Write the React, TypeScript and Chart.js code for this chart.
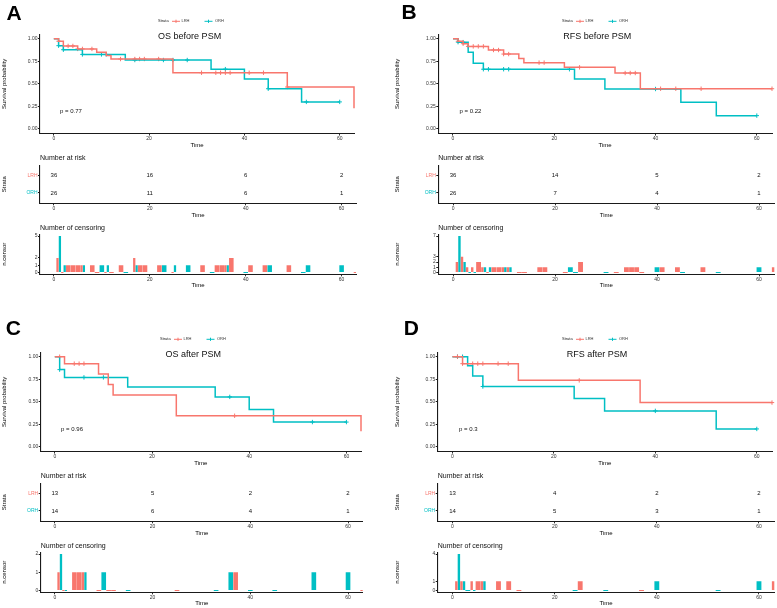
import React, { useEffect, useRef } from "react";
import { Chart, registerables } from "chart.js";

Chart.register(...registerables);

const RED = "#F8766D";
const CYAN = "#00BFC4";
const AXIS = "#1a1a1a";
const TICK = "#333333";
const FONT = "'Liberation Sans', Arial, Helvetica, sans-serif";

const STRATA = ["LRH", "ORH"];
const TIME_TICKS = [0, 20, 40, 60];
const SURV_TICKS = [0, 0.25, 0.5, 0.75, 1];
const RISK_TIMES = [0, 20, 40, 60];
const X_MIN = -2.9;
const X_MAX = 63;
const TITLE_T = 28.5;
const PVAL_T = 1.3;
const PVAL_S = 0.2;

// ---------- A: OS before PSM ----------
const A_TITLE = "OS before PSM";
const A_PVAL = "p = 0.77";
const A_LRH_T = [0, 1, 2, 5, 9, 11, 12, 25, 49, 63];
const A_LRH_S = [1, 0.972, 0.92, 0.887, 0.849, 0.815, 0.775, 0.623, 0.465, 0.23];
const A_ORH_T = [0, 1, 2, 6, 15, 33, 40, 45, 52, 60];
const A_ORH_S = [1, 0.923, 0.878, 0.826, 0.764, 0.663, 0.553, 0.446, 0.3, 0.3];
const A_RISK_LRH = [36, 16, 6, 2];
const A_RISK_ORH = [26, 11, 6, 1];
const A_CENS_LRH_T = [1, 2, 3, 4, 5, 6, 8, 9, 11, 12, 14, 17, 18, 19, 22, 25, 31, 34, 35, 36, 37, 41, 44, 49, 63];
const A_CENS_LRH_N = [2, 0, 1, 1, 1, 1, 1, 0, 0, 0, 1, 2, 1, 1, 1, 0, 1, 1, 1, 1, 2, 1, 1, 1, 0];
const A_CENS_ORH_T = [1, 2, 6, 10, 11, 15, 17, 23, 25, 28, 33, 36, 40, 45, 52, 53, 60];
const A_CENS_ORH_N = [5, 1, 1, 1, 1, 0, 1, 1, 1, 1, 0, 1, 0, 1, 0, 1, 1];

// ---------- B: RFS before PSM ----------
const B_TITLE = "RFS before PSM";
const B_PVAL = "p = 0.22";
const B_LRH_T = [0, 1, 2, 3, 7, 10, 13, 14, 22, 32, 37, 63];
const B_LRH_S = [1, 0.972, 0.945, 0.915, 0.875, 0.83, 0.782, 0.735, 0.683, 0.62, 0.446, 0.446];
const B_ORH_T = [0, 1, 3, 4, 6, 24, 30, 45, 52, 60];
const B_ORH_S = [1, 0.962, 0.849, 0.727, 0.662, 0.553, 0.443, 0.295, 0.148, 0.148];
const B_RISK_LRH = [36, 14, 5, 2];
const B_RISK_ORH = [26, 7, 4, 1];
const B_CENS_LRH_T = [1, 2, 3, 4, 5, 6, 7, 8, 9, 10, 11, 13, 14, 17, 18, 22, 25, 32, 34, 35, 36, 37, 41, 44, 49, 63];
const B_CENS_LRH_N = [2, 3, 1, 1, 2, 1, 0, 1, 1, 1, 1, 0, 0, 1, 1, 0, 2, 0, 1, 1, 1, 0, 1, 1, 1, 1];
const B_CENS_ORH_T = [1, 2, 3, 4, 6, 7, 10, 11, 23, 24, 30, 40, 45, 52, 60];
const B_CENS_ORH_N = [7, 2, 0, 0, 1, 1, 1, 1, 1, 0, 0, 1, 0, 0, 1];

// ---------- C: OS after PSM ----------
const C_TITLE = "OS after PSM";
const C_PVAL = "p = 0.96";
const C_LRH_T = [0, 2, 9, 11, 12, 25, 63];
const C_LRH_S = [1, 0.923, 0.808, 0.692, 0.577, 0.346, 0.173];
const C_ORH_T = [0, 1, 2, 15, 33, 40, 45, 60];
const C_ORH_S = [1, 0.857, 0.771, 0.665, 0.555, 0.415, 0.276, 0.276];
const C_RISK_LRH = [13, 5, 2, 2];
const C_RISK_ORH = [14, 6, 4, 1];
const C_CENS_LRH_T = [1, 2, 4, 5, 6, 9, 11, 12, 25, 37, 63];
const C_CENS_LRH_N = [1, 0, 1, 1, 1, 0, 0, 0, 0, 1, 0];
const C_CENS_ORH_T = [1, 2, 6, 10, 15, 33, 36, 40, 45, 53, 60];
const C_CENS_ORH_N = [2, 0, 1, 1, 0, 0, 1, 0, 0, 1, 1];

// ---------- D: RFS after PSM ----------
const D_TITLE = "RFS after PSM";
const D_PVAL = "p = 0.3";
const D_LRH_T = [0, 2, 13, 37, 63];
const D_LRH_S = [1, 0.923, 0.738, 0.492, 0.492];
const D_ORH_T = [0, 3, 4, 6, 24, 30, 52, 60];
const D_ORH_S = [1, 0.9, 0.787, 0.67, 0.537, 0.4, 0.2, 0.2];
const D_RISK_LRH = [13, 4, 2, 2];
const D_RISK_ORH = [14, 5, 3, 1];
const D_CENS_LRH_T = [1, 2, 4, 5, 6, 9, 11, 13, 25, 37, 63];
const D_CENS_LRH_N = [1, 1, 1, 1, 1, 1, 1, 0, 1, 0, 1];
const D_CENS_ORH_T = [1, 2, 3, 4, 6, 24, 30, 40, 52, 60];
const D_CENS_ORH_N = [4, 1, 0, 0, 1, 0, 0, 1, 0, 1];

type Panel = {
  letter: string;
  title: string;
  pval: string;
  km: number[][][];
  risk: number[][];
  cens: number[][][];
};

const PANELS: Panel[] = [
  { letter: "A", title: A_TITLE, pval: A_PVAL, km: [[A_LRH_T, A_LRH_S], [A_ORH_T, A_ORH_S]], risk: [A_RISK_LRH, A_RISK_ORH], cens: [[A_CENS_LRH_T, A_CENS_LRH_N], [A_CENS_ORH_T, A_CENS_ORH_N]] },
  { letter: "B", title: B_TITLE, pval: B_PVAL, km: [[B_LRH_T, B_LRH_S], [B_ORH_T, B_ORH_S]], risk: [B_RISK_LRH, B_RISK_ORH], cens: [[B_CENS_LRH_T, B_CENS_LRH_N], [B_CENS_ORH_T, B_CENS_ORH_N]] },
  { letter: "C", title: C_TITLE, pval: C_PVAL, km: [[C_LRH_T, C_LRH_S], [C_ORH_T, C_ORH_S]], risk: [C_RISK_LRH, C_RISK_ORH], cens: [[C_CENS_LRH_T, C_CENS_LRH_N], [C_CENS_ORH_T, C_CENS_ORH_N]] },
  { letter: "D", title: D_TITLE, pval: D_PVAL, km: [[D_LRH_T, D_LRH_S], [D_ORH_T, D_ORH_S]], risk: [D_RISK_LRH, D_RISK_ORH], cens: [[D_CENS_LRH_T, D_CENS_LRH_N], [D_CENS_ORH_T, D_CENS_ORH_N]] },
];

// layout (pixels)
const LAYOUTS = [
  { x0: 0, left: 40, right: 356, dy: 0, yTitleX: 4.2, legendX: 158, letterX: 6.5, letterY: 19.8 },
  { x0: 390, left: 438.3, right: 774.3, dy: 0, yTitleX: 397.5, legendX: 562, letterX: 401.5, letterY: 18.6 },
  { x0: 0, left: 40.7, right: 362.7, dy: 318, yTitleX: 4.2, legendX: 160, letterX: 5.8, letterY: 334.3 },
  { x0: 390, left: 437.7, right: 774.3, dy: 318, yTitleX: 397.5, legendX: 562, letterX: 403.8, letterY: 334.3 },
];
const ROW = {
  legendOff: 12.9,
  km: { top: 34.2, bottom: 133.5, timeY: 145.7, extra: 21 },
  risk: { top: 165.2, bottom: 203.3, timeY: 215.7, extra: 12 },
  cens: { top: 234.2, bottom: 274.3, timeY: 285.7, extra: 12 },
};

type Geom = {
  left: number; top: number; width: number; height: number;
  padTop: number; padRight: number; yAxisW: number; xAxisH: number;
  xTitlePad: number; yTitlePad: number; x0: number;
};

function makeGeom(x0: number, left: number, right: number, top: number, bottom: number, timeY: number, yTitleX: number, extra: number): Geom {
  const cTop = Math.floor(top - extra);
  const cBottom = Math.ceil(timeY + 4.6);
  const cRight = Math.min(777, Math.ceil(right + 3));
  return {
    x0,
    left: x0,
    top: cTop,
    width: cRight - x0,
    height: cBottom - cTop,
    padTop: top - cTop,
    padRight: cRight - right,
    yAxisW: left - x0,
    xAxisH: cBottom - bottom,
    xTitlePad: cBottom - timeY - 3.6,
    yTitlePad: yTitleX - x0 - 3.6,
  };
}

function survAt(T: number[], S: number[], t: number) {
  let v = S[0];
  for (let i = 0; i < T.length; i++) if (T[i] <= t) v = S[i];
  return v;
}

function xAxis(g: Geom) {
  return {
    type: "linear",
    min: X_MIN,
    max: X_MAX,
    offset: false,
    afterBuildTicks: (s: any) => { s.ticks = TIME_TICKS.map((v) => ({ value: v })); },
    afterFit: (s: any) => { s.height = g.xAxisH; },
    grid: { display: true, offset: false, drawOnChartArea: false, drawTicks: true, tickLength: 2, color: AXIS, lineWidth: 1 },
    border: { display: true, color: AXIS, width: 1.1 },
    ticks: { font: { family: FONT, size: 5 }, color: TICK, padding: 0.5, maxRotation: 0, autoSkip: false, callback: (v: any) => String(v) },
    title: { display: true, text: "Time", font: { family: FONT, size: 6 }, color: "#000", padding: { top: 0, bottom: g.xTitlePad } },
  };
}

function yAxis(g: Geom, title: string, min: number, max: number, ticks: number[], fmt: (v: number) => string, color: any) {
  return {
    type: "linear",
    min,
    max,
    afterBuildTicks: (s: any) => { s.ticks = ticks.map((v) => ({ value: v })); },
    afterFit: (s: any) => { s.width = g.yAxisW; },
    grid: { display: true, drawOnChartArea: false, drawTicks: true, tickLength: 2, color: AXIS, lineWidth: 1 },
    border: { display: true, color: AXIS, width: 1.1 },
    ticks: { font: { family: FONT, size: 5 }, color, padding: 0.5, autoSkip: false, callback: (v: any) => fmt(Number(v)) },
    title: { display: true, text: title, font: { family: FONT, size: 6 }, color: "#000", padding: { top: g.yTitlePad, bottom: 0 } },
  };
}

function baseOptions(g: Geom) {
  return {
    responsive: false,
    animation: false,
    devicePixelRatio: 1,
    events: [],
    layout: { padding: { left: 0, top: g.padTop, right: g.padRight, bottom: 0 } },
    plugins: { legend: { display: false }, tooltip: { enabled: false }, title: { display: false } },
  };
}

function kmConfig(p: Panel, L: any, g: Geom) {
  const colors = [RED, CYAN];
  const datasets: any[] = [];
  p.km.forEach(([T, S], k) => {
    datasets.push({
      label: STRATA[k],
      data: T.map((t, i) => ({ x: t, y: S[i] })),
      borderColor: colors[k],
      borderWidth: 1.5,
      pointRadius: 0,
      stepped: "before",
      fill: false,
      clip: 2,
    });
  });
  p.cens.forEach(([T, N], k) => {
    const [KT, KS] = p.km[k];
    const pts = T.filter((_, i) => N[i] > 0).map((t) => ({ x: t, y: survAt(KT, KS, t) }));
    datasets.push({
      label: STRATA[k] + " censored",
      data: pts,
      showLine: false,
      pointStyle: "cross",
      pointRadius: 2.2,
      pointBorderWidth: 1,
      pointBorderColor: colors[k],
      pointBackgroundColor: colors[k],
      clip: 3,
    });
  });
  const plugin = {
    id: "kmText" + p.letter,
    afterDraw(chart: any) {
      const { ctx, chartArea, scales } = chart;
      ctx.save();
      ctx.textBaseline = "middle";
      ctx.fillStyle = "#111";
      ctx.font = `9px ${FONT}`;
      ctx.textAlign = "center";
      ctx.fillText(p.title, scales.x.getPixelForValue(TITLE_T), chartArea.top + 2.5);
      ctx.font = `6px ${FONT}`;
      ctx.textAlign = "left";
      ctx.fillText(p.pval, scales.x.getPixelForValue(PVAL_T), scales.y.getPixelForValue(PVAL_S));
      // legend
      const ly = chartArea.top - ROW.legendOff;
      const lx = L.legendX - g.x0;
      ctx.font = `4px ${FONT}`;
      ctx.fillStyle = "#222";
      ctx.fillText("Strata", lx, ly);
      const items = [
        { c: RED, t: STRATA[0], l: lx + 14, tx: lx + 23.5 },
        { c: CYAN, t: STRATA[1], l: lx + 46.5, tx: lx + 57 },
      ];
      items.forEach((it) => {
        ctx.strokeStyle = it.c;
        ctx.lineWidth = 1;
        ctx.beginPath();
        ctx.moveTo(it.l, ly);
        ctx.lineTo(it.l + 8, ly);
        ctx.moveTo(it.l + 4, ly - 1.6);
        ctx.lineTo(it.l + 4, ly + 1.6);
        ctx.stroke();
        ctx.fillStyle = "#333";
        ctx.fillText(it.t, it.tx, ly);
      });
      ctx.restore();
    },
  };
  return {
    type: "line",
    data: { datasets },
    options: {
      ...baseOptions(g),
      scales: {
        x: xAxis(g),
        y: yAxis(g, "Survival probability", -0.05, 1.05, SURV_TICKS, (v) => v.toFixed(2), TICK),
      },
    },
    plugins: [plugin],
  };
}

function riskConfig(p: Panel, g: Geom) {
  const colors = [RED, CYAN];
  const datasets = p.risk.map((counts, k) => ({
    label: STRATA[k],
    data: RISK_TIMES.map((t) => ({ x: t, y: 2 - k })),
    counts,
    pointRadius: 0,
    showLine: false,
    borderColor: colors[k],
  }));
  const plugin = {
    id: "riskText" + p.letter,
    afterDraw(chart: any) {
      const { ctx, chartArea } = chart;
      ctx.save();
      ctx.textBaseline = "middle";
      ctx.fillStyle = "#111";
      ctx.font = `7px ${FONT}`;
      ctx.textAlign = "left";
      ctx.fillText("Number at risk", chartArea.left, chartArea.top - 7.2);
      ctx.font = `6px ${FONT}`;
      ctx.textAlign = "center";
      chart.data.datasets.forEach((ds: any, k: number) => {
        const meta = chart.getDatasetMeta(k);
        meta.data.forEach((el: any, i: number) => {
          ctx.fillText(String(ds.counts[i]), el.x, el.y);
        });
      });
      ctx.restore();
    },
  };
  return {
    type: "scatter",
    data: { datasets },
    options: {
      ...baseOptions(g),
      scales: {
        x: xAxis(g),
        y: yAxis(g, "Strata", 0.4, 2.6, [1, 2], (v) => (v === 2 ? STRATA[0] : STRATA[1]),
          (c: any) => (c.tick && c.tick.value === 2 ? RED : CYAN)),
      },
    },
    plugins: [plugin],
  };
}

function censConfig(p: Panel, g: Geom) {
  const colors = [RED, CYAN];
  const all = Array.from(new Set([...p.cens[0][0], ...p.cens[1][0]])).sort((a, b) => a - b);
  const datasets = p.cens.map(([T, N], k) => ({
    label: STRATA[k],
    data: all.map((t) => {
      const i = T.indexOf(t);
      return { x: t, y: i >= 0 ? N[i] : null };
    }),
    backgroundColor: colors[k],
    borderWidth: 0,
    minBarLength: 1,
    categoryPercentage: 1,
    barPercentage: 0.95,
    skipNull: true,
    grouped: true,
    clip: 0,
  }));
  const counts = [...p.cens[0][1], ...p.cens[1][1]];
  const maxN = Math.max(...counts);
  const ticks = Array.from(new Set(counts)).sort((a, b) => a - b);
  const plugin = {
    id: "censText" + p.letter,
    afterDraw(chart: any) {
      const { ctx, chartArea } = chart;
      ctx.save();
      ctx.textBaseline = "middle";
      ctx.fillStyle = "#111";
      ctx.font = `7px ${FONT}`;
      ctx.textAlign = "left";
      ctx.fillText("Number of censoring", chartArea.left, chartArea.top - 6.5);
      ctx.restore();
    },
  };
  return {
    type: "bar",
    data: { datasets },
    options: {
      ...baseOptions(g),
      scales: {
        x: xAxis(g),
        y: yAxis(g, "n.censor", -0.05 * maxN, 1.05 * maxN, ticks, (v) => String(v), TICK),
      },
    },
    plugins: [plugin],
  };
}

function ChartBox({ g, build }: { g: Geom; build: () => any }) {
  const ref = useRef<HTMLCanvasElement>(null);
  useEffect(() => {
    const chart = new Chart(ref.current as HTMLCanvasElement, build());
    return () => chart.destroy();
  }, []);
  return (
    <canvas
      ref={ref}
      width={g.width}
      height={g.height}
      style={{ position: "absolute", left: g.left, top: g.top, width: g.width, height: g.height }}
    />
  );
}

function PanelView({ p, L }: { p: Panel; L: any }) {
  const gk = makeGeom(L.x0, L.left, L.right, ROW.km.top + L.dy, ROW.km.bottom + L.dy, ROW.km.timeY + L.dy, L.yTitleX, ROW.km.extra);
  const gr = makeGeom(L.x0, L.left, L.right, ROW.risk.top + L.dy, ROW.risk.bottom + L.dy, ROW.risk.timeY + L.dy, L.yTitleX, ROW.risk.extra);
  const gc = makeGeom(L.x0, L.left, L.right, ROW.cens.top + L.dy, ROW.cens.bottom + L.dy, ROW.cens.timeY + L.dy, L.yTitleX, ROW.cens.extra);
  return (
    <>
      <ChartBox g={gk} build={() => kmConfig(p, L, gk)} />
      <ChartBox g={gr} build={() => riskConfig(p, gr)} />
      <ChartBox g={gc} build={() => censConfig(p, gc)} />
      <div
        style={{
          position: "absolute",
          left: L.letterX,
          top: L.letterY - 17.8,
          font: `bold 21px/21px ${FONT}`,
          color: "#000",
          whiteSpace: "nowrap",
        }}
      >
        {p.letter}
      </div>
    </>
  );
}

export default function App() {
  return (
    <div
      style={{
        position: "absolute",
        left: 0,
        top: 0,
        width: 777,
        height: 608,
        overflow: "hidden",
        background: "#fff",
      }}
    >
      {PANELS.map((p, i) => (
        <PanelView key={p.letter} p={p} L={LAYOUTS[i]} />
      ))}
    </div>
  );
}
